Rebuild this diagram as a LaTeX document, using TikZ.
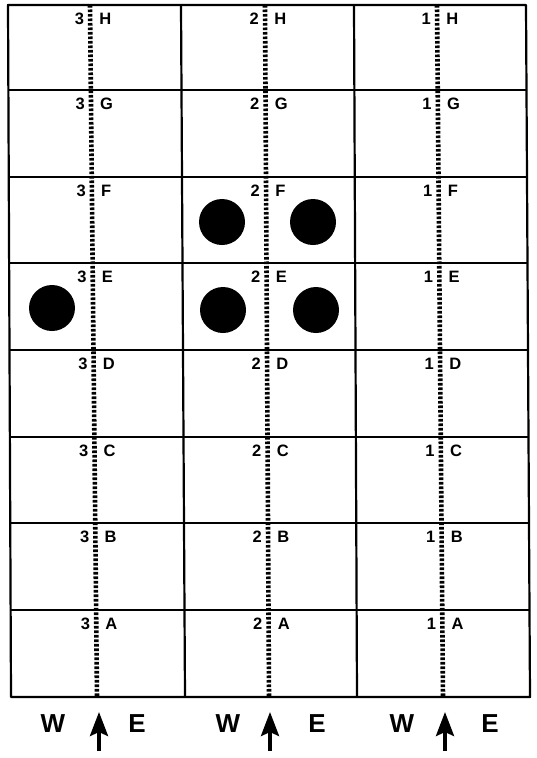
\documentclass[tikz,border=0pt]{standalone}
\usepackage{fontspec}
\setmainfont{Liberation Sans}
\usetikzlibrary{calc,arrows.meta}
\tikzset{
  frame/.style={line width=2.2pt, line join=round},
  dotline/.style={line width=4.6pt, dash pattern=on 2.6pt off 1.9pt},
  lab/.style={inner sep=0pt, font=\fontsize{16.5}{16.5}\selectfont\bfseries},
  dir/.style={inner sep=0pt, font=\fontsize{26}{26}\selectfont\bfseries},
  northarrow/.style={line width=3.5pt, -{Stealth[length=24pt,width=18pt,inset=4pt]}},
  stone/.style={fill=black}
}
\begin{document}
\begin{tikzpicture}[x=1pt,y=-1pt]
\fill[white] (0,0) rectangle (536,758);
\useasboundingbox (0,0) rectangle (536,758);
% frame
\coordinate (TL) at (8,5);
\coordinate (TR) at (526,5);
\coordinate (BR) at (530,697);
\coordinate (BL) at (11,697);
\coordinate (c1t) at (181,5);
\coordinate (c1b) at (185,697);
\coordinate (c2t) at (354,5);
\coordinate (c2b) at (357,697);
\draw[frame] (TL) -- (TR) -- (BR) -- (BL) -- cycle;
\draw[frame] (c1t) -- (c1b);
\draw[frame] (c2t) -- (c2b);
\foreach \y in {90,177,263,350,437,523,610}{
  \pgfmathsetmacro{\t}{(\y-5)/692}
  \draw[frame] ($(TL)!\t!(BL)$) -- ($(TR)!\t!(BR)$);
}
% dotted centre lines
\coordinate (d3t) at (90,5);  \coordinate (d3b) at (97,697);
\coordinate (d2t) at (265,5); \coordinate (d2b) at (269,697);
\coordinate (d1t) at (437,5); \coordinate (d1b) at (443,697);
\foreach \c in {1,2,3}{
  \draw[dotline] (d\c t) -- (d\c b);
  \foreach \y/\l in {5/H,90/G,177/F,263/E,350/D,437/C,523/B,610/A}{
    \pgfmathsetmacro{\t}{(\y+14-5)/692}
    \coordinate (p) at ($(d\c t)!\t!(d\c b)$);
    \node[lab, anchor=east] (n\c\l) at ($(p)+(-6,0)$) {\c};
    \node[lab, anchor=west] (m\c\l) at ($(p)+(9,0)$) {\l};
  }
}
% stones
\fill[stone] (52,308) circle (23);
\fill[stone] (222,222) circle (23);
\fill[stone] (313,222) circle (23);
\fill[stone] (223,310) circle (23);
\fill[stone] (316,310) circle (23);
% bottom labels and arrows
\foreach \w/\a/\e/\i in {53/99/137/3, 228/270/317/2, 402/445/490/1}{
  \node[dir] (w\i) at (\w,724) {W};
  \node[dir] (e\i) at (\e,724) {E};
  \coordinate (as\i) at (\a,751);
  \coordinate (ae\i) at (\a,712);
  \draw[northarrow] (as\i) -- (ae\i);
}
\end{tikzpicture}
\end{document}
